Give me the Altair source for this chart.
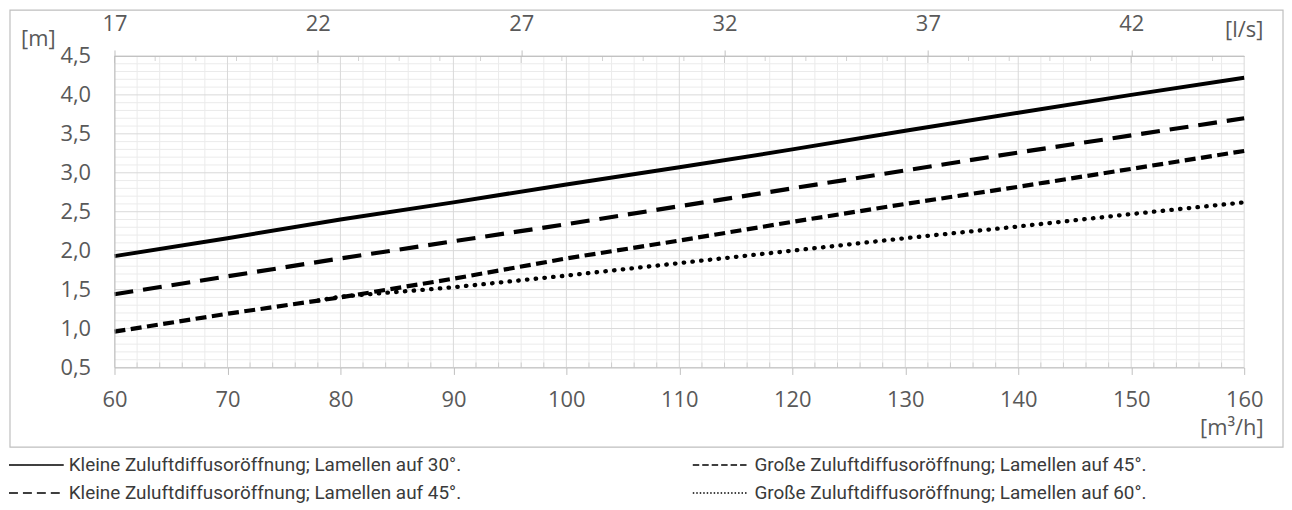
import altair as alt
import pandas as pd

# ---- data ----
flow_m3h = [60, 70, 80, 90, 100, 110, 120, 130, 140, 150, 160]
kleine_30 = [1.93, 2.16, 2.40, 2.62, 2.85, 3.07, 3.30, 3.54, 3.77, 4.00, 4.22]
kleine_45 = [1.44, 1.67, 1.90, 2.12, 2.34, 2.57, 2.80, 3.03, 3.26, 3.48, 3.70]
grosse_45 = [0.96, 1.19, 1.40, 1.64, 1.90, 2.13, 2.37, 2.60, 2.82, 3.05, 3.28]
flow_g60 = [78, 80, 90, 100, 110, 120, 130, 140, 150, 160]
grosse_60 = [1.36, 1.41, 1.53, 1.68, 1.84, 2.00, 2.16, 2.31, 2.47, 2.62]

series_names = [
    "Kleine Zuluftdiffusoröffnung; Lamellen auf 30°.",
    "Kleine Zuluftdiffusoröffnung; Lamellen auf 45°.",
    "Große Zuluftdiffusoröffnung; Lamellen auf 45°.",
    "Große Zuluftdiffusoröffnung; Lamellen auf 60°.",
]

# axis ticks / grid values
x_major = [60, 70, 80, 90, 100, 110, 120, 130, 140, 150, 160]
x_minor = [62, 64, 66, 68, 72, 74, 76, 78, 82, 84, 86, 88, 92, 94, 96, 98,
           102, 104, 106, 108, 112, 114, 116, 118, 122, 124, 126, 128,
           132, 134, 136, 138, 142, 144, 146, 148, 152, 154, 156, 158]
y_major = [0.5, 1.0, 1.5, 2.0, 2.5, 3.0, 3.5, 4.0, 4.5]
y_minor = [0.6, 0.7, 0.8, 0.9, 1.1, 1.2, 1.3, 1.4, 1.6, 1.7, 1.8, 1.9,
           2.1, 2.2, 2.3, 2.4, 2.6, 2.7, 2.8, 2.9, 3.1, 3.2, 3.3, 3.4,
           3.6, 3.7, 3.8, 3.9, 4.1, 4.2, 4.3, 4.4]
ls_major = [17, 22, 27, 32, 37, 42]
ls_minor = [18, 19, 20, 21, 23, 24, 25, 26, 28, 29, 30, 31, 33, 34, 35, 36,
            38, 39, 40, 41, 43, 44]
ls_domain = [17, 17 + 100 / 3.6]
y_bottom, y_top = 0.5, 4.5

W, H = 1135, 313
FONT = "Open Sans"
FS = 22
LABEL_COLOR = "#595959"
AXIS_GRAY = "#bfbfbf"

x_scale = alt.Scale(domain=[60, 160], nice=False, zero=False)
y_scale = alt.Scale(domain=[y_bottom, y_top], nice=False, zero=False)

x_axis = alt.Axis(
    values=x_major, grid=False, orient="bottom", zindex=1,
    domainColor=AXIS_GRAY, tickColor=AXIS_GRAY, tickSize=7, labelPadding=15,
    labelFont=FONT, labelFontSize=FS, labelColor=LABEL_COLOR,
    labelOverlap=False, labelFlush=False,
    title="[m³/h]", titleFont=FONT, titleFontSize=FS, titleFontWeight="normal",
    titleColor=LABEL_COLOR, titleX=1154, titleY=60, titleAlign="right",
    titleBaseline="middle",
)
y_axis = alt.Axis(
    values=y_major, grid=False, ticks=False, zindex=1,
    domainColor=AXIS_GRAY, labelPadding=24, labelOverlap=False,
    labelExpr="replace(format(datum.value, '.1f'), '.', ',')",
    labelFont=FONT, labelFontSize=FS, labelColor=LABEL_COLOR,
    title="[m]", titleFont=FONT, titleFontSize=FS, titleFontWeight="normal",
    titleColor=LABEL_COLOR, titleAngle=0, titleX=-77, titleY=-17,
    titleAlign="center", titleBaseline="middle",
)


def X():
    return alt.X("m3h:Q", scale=x_scale, axis=x_axis)


def Y():
    return alt.Y("val:Q", scale=y_scale, axis=y_axis)


# ---- frame around chart area ----
frame = alt.Chart(alt.Data(values=[{"a": 1}])).mark_rect(
    fill="white", stroke=AXIS_GRAY, strokeWidth=1.2
).encode(
    x=alt.value(-105), x2=alt.value(1174), y=alt.value(-46), y2=alt.value(393)
)

# ---- gridlines ----
df_xminor = pd.DataFrame({"m3h": x_minor, "val": y_bottom})
df_xmajor = pd.DataFrame({"m3h": x_major})
df_yminor = pd.DataFrame({"val": y_minor})
df_ymajor = pd.DataFrame({"val": y_major})

grid_x_minor = alt.Chart(df_xminor).mark_rule(color="#ebebeb", strokeWidth=1).encode(x=X())
grid_y_minor = alt.Chart(df_yminor).mark_rule(color="#ebebeb", strokeWidth=1).encode(y=Y())
grid_x_major = alt.Chart(df_xmajor).mark_rule(color="#d9d9d9", strokeWidth=1).encode(x=X())
grid_y_major = alt.Chart(df_ymajor).mark_rule(color="#d9d9d9", strokeWidth=1).encode(y=Y())

# bottom minor ticks (inside)
ticks_bottom = alt.Chart(df_xminor).mark_tick(
    orient="vertical", size=5, thickness=1, color=AXIS_GRAY, yOffset=-2.5
).encode(x=X(), y=Y())

# ---- data lines ----
df_k30 = pd.DataFrame({"m3h": flow_m3h, "val": kleine_30})
df_k45 = pd.DataFrame({"m3h": flow_m3h, "val": kleine_45})
df_g45 = pd.DataFrame({"m3h": flow_m3h, "val": grosse_45})
df_g60 = pd.DataFrame({"m3h": flow_g60, "val": grosse_60})

line_k30 = alt.Chart(df_k30).mark_line(color="black", strokeWidth=4).encode(x=X(), y=Y())
line_k45 = alt.Chart(df_k45).mark_line(
    color="black", strokeWidth=4.2, strokeDash=[19, 10], strokeCap="butt"
).encode(x=X(), y=Y())
line_g45 = alt.Chart(df_g45).mark_line(
    color="black", strokeWidth=4.2, strokeDash=[11, 5.5], strokeCap="butt"
).encode(x=X(), y=Y())
line_g60 = alt.Chart(df_g60).mark_line(
    color="black", strokeWidth=4.3, strokeDash=[0.5, 8.3], strokeCap="round"
).encode(x=X(), y=Y())

# ---- legends (drawn from empty data, scale domains are explicit) ----
df_all = pd.concat([
    df_k30.assign(serie=series_names[0]),
    df_k45.assign(serie=series_names[1]),
    df_g45.assign(serie=series_names[2]),
    df_g60.assign(serie=series_names[3]),
])


def legend_layer(names, dashes, lx, offset):
    return alt.Chart(df_all).transform_filter(
        alt.datum.m3h > 1000
    ).mark_line(color="black", strokeWidth=1.5).encode(
        x=X(), y=Y(),
        strokeDash=alt.StrokeDash(
            "serie:N",
            scale=alt.Scale(domain=names, range=dashes),
            legend=alt.Legend(
                title=None, orient="none", legendX=lx, legendY=401.5,
                direction="vertical", padding=0, symbolType="stroke",
                symbolSize=3025, symbolStrokeWidth=1.5, symbolStrokeColor="black",
                clipHeight=19, rowPadding=8, labelOffset=offset,
                labelFont="Roboto", labelFontSize=19, labelColor="#3a3a3a",
                labelLimit=600,
            ),
        ),
    )


legend_left = legend_layer([series_names[0], series_names[1]], [[1, 0], [9, 5]], -107, 4)
legend_right = legend_layer([series_names[2], series_names[3]], [[6.5, 3], [1.5, 2]], 580, 6)

inner = alt.layer(
    frame, grid_x_minor, grid_y_minor, grid_x_major, grid_y_major, ticks_bottom,
    line_g60, line_g45, line_k45, line_k30, legend_left, legend_right,
).resolve_scale(strokeDash="independent")

# ---- top axis in l/s ----
top_axis = alt.Axis(
    values=ls_major, grid=False, orient="top", zindex=1,
    domainColor=AXIS_GRAY, tickColor=AXIS_GRAY, tickSize=6, labelPadding=15,
    labelFont=FONT, labelFontSize=FS, labelColor=LABEL_COLOR, labelFlush=False,
    labelOverlap=False,
    title="[l/s]", titleFont=FONT, titleFontSize=FS, titleFontWeight="normal",
    titleColor=LABEL_COLOR, titleX=1134.5, titleY=-27, titleAlign="center",
    titleBaseline="middle",
)
ls_scale = alt.Scale(domain=ls_domain, nice=False, zero=False)

top_minor = alt.Chart(pd.DataFrame({"ls": ls_minor, "val": y_top})).mark_tick(
    orient="vertical", size=5, thickness=1, color=AXIS_GRAY, yOffset=2.5
).encode(x=alt.X("ls:Q", scale=ls_scale, axis=top_axis), y=Y())
top_major = alt.Chart(pd.DataFrame({"ls": ls_major, "val": y_top})).mark_tick(
    orient="vertical", size=7, thickness=1, color=AXIS_GRAY, yOffset=3.5
).encode(x=alt.X("ls:Q", scale=ls_scale, axis=top_axis), y=Y())

top = alt.layer(top_minor, top_major)

chart = alt.layer(inner, top).resolve_scale(x="independent").properties(
    width=W, height=H, padding=0, background="white"
).configure_view(strokeWidth=0).configure_axis(labelOverlap=False)

chart.save("out.html", embed_options={"renderer": "svg", "actions": False})
